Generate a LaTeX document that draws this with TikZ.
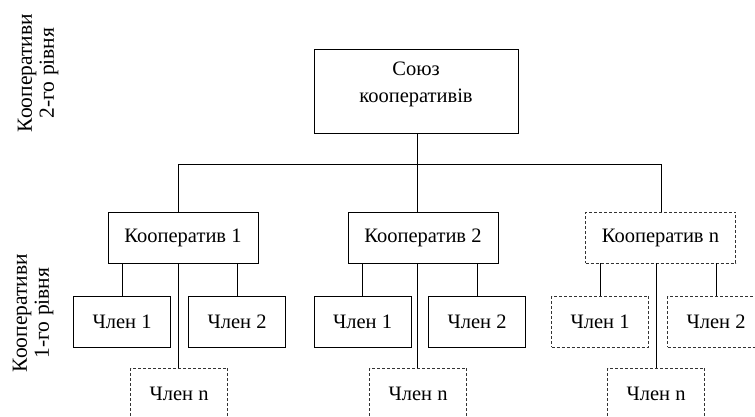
\documentclass[tikz,border=0pt]{standalone}
\usepackage{fontspec}
\setmainfont{Liberation Serif}
\usetikzlibrary{positioning}

\begin{document}
\begin{tikzpicture}[x=1pt,y=-1pt,line width=0.9pt,
	main box/.style={draw,font=\fontsize{20.5}{24}\selectfont,inner sep=0pt,minimum height=51pt},
	coop box/.style={main box,minimum width=150pt},
	member box/.style={main box,minimum width=97pt},
	level text/.style={rotate=90,align=center,font=\fontsize{21.5}{22}\selectfont},
	dash box/.style={dash pattern=on 3pt off 2pt,draw=black!80,line width=0.7pt}]
	\useasboundingbox (0,0) rectangle (755,416);
	\clip (0,0) rectangle (755,416);

	% Підписи рівнів
	\node[level text] (lev2) at (38,73) {Кооперативи\\2-го рівня};
	\node[level text] (lev1) at (33,313) {Кооперативи\\1-го рівня};

	% Союз і кооперативи
	\node[main box,minimum width=204pt,minimum height=84pt,
		label={[align=center,font=\fontsize{20.5}{27}\selectfont,yshift=7pt]center:Союз\\кооперативів}] (union) at (416,91) {};
	\node[coop box] (k1) at (183,237.5) {Кооператив 1};
	\node[coop box] (k2) at (423,237.5) {Кооператив 2};
	\node[coop box,dash box] (kn) at (660.5,237.5) {Кооператив n};
	\coordinate (bus) at (417,164);

	% Члени кооперативів
	\node[member box] (m11) at (122,321.5) {Член 1};
	\node[member box] (m12) at (237,321.5) {Член 2};
	\node[member box,dash box] (m1n) at (179,393.5) {Член n};
	\node[member box] (m21) at (362.5,321.5) {Член 1};
	\node[member box] (m22) at (477,321.5) {Член 2};
	\node[member box,dash box] (m2n) at (418,393.5) {Член n};
	\node[member box,dash box] (mn1) at (600,321.5) {Член 1};
	\node[member box,dash box] (mn2) at (716,321.5) {Член 2};
	\node[member box,dash box] (mnn) at (656,393.5) {Член n};

	% Зв'язки
	\draw (union.south -| bus) -- (bus);
	\draw (178,164) -- (661,164);
	\draw (178,164) -- (k1.north -| 178,0);
	\draw (bus) -- (k2.north -| bus);
	\draw (661,164) -- (kn.north -| 661,0);
	\draw (k1.south -| m11.north) -- (m11.north);
	\draw (k1.south -| m12.north) -- (m12.north);
	\draw (k1.south -| 178,0) -- (m1n.north -| 178,0);
	\draw (k2.south -| m21.north) -- (m21.north);
	\draw (k2.south -| m22.north) -- (m22.north);
	\draw (k2.south -| bus) -- (m2n.north -| bus);
	\draw (kn.south -| mn1.north) -- (mn1.north);
	\draw (kn.south -| mn2.north) -- (mn2.north);
	\draw (kn.south -| mnn.north) -- (mnn.north);
\end{tikzpicture}
\end{document}
